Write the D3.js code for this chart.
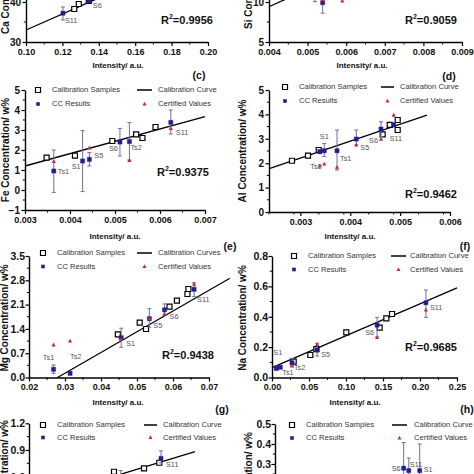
<!DOCTYPE html>
<html><head><meta charset="utf-8">
<script src="https://cdn.jsdelivr.net/npm/d3@7"></script>
<style>body{margin:0;background:#fff}svg{display:block}</style>
</head><body><svg id="c" width="474" height="474"></svg>
<script>
// ---------------- DATA ----------------
const caXTicks=[0.10,0.12,0.14,0.16,0.18,0.20], caYTicks=[30,40];
const caCalib=[[0.1265,38.25],[0.129,39.5],[0.1345,40.3]];
const caLine=[[0.10,33.0],[0.142,41.4]];
const caCC=[{s:'S11',x:0.1203,y:37.2,lo:35.5,hi:38.75},{s:'S6',x:0.1345,y:40.3,lo:40.0,hi:40.6}];
const caCert=[];

const siXTicks=[0.004,0.005,0.006,0.007,0.008,0.009], siYTicks=[5,10];
const siCalib=[];
const siLine=[[0.004,9.41],[0.0046,10.72]];
const siCC=[{s:'',x:0.00519,y:10.7,lo:10.05,hi:11.3},{s:'',x:0.00539,y:9.91,lo:8.6,hi:11.0}];
const siCert=[{x:0.00539,y:10.25},{x:0.0059,y:10.12}];

const feXTicks=[0.003,0.004,0.005,0.006,0.007], feYTicks=[-1,0,1,2,3,4,5];
const feCalib=[[0.00348,1.62],[0.00411,1.72],[0.00494,2.45],[0.00547,2.78],[0.00561,2.60],[0.0059,3.15]];
const feLine=[[0.003,1.2],[0.007,3.67]];
const feCC=[
 {s:'Ts1',x:0.00364,y:0.95,lo:-0.12,hi:2.0},
 {s:'S1',x:0.00428,y:1.45,lo:-0.08,hi:2.97},
 {s:'S5',x:0.00443,y:1.53,lo:1.2,hi:1.87},
 {s:'S6',x:0.00511,y:2.40,lo:1.7,hi:3.08},
 {s:'Ts2',x:0.00532,y:2.42,lo:1.5,hi:3.37},
 {s:'S11',x:0.00624,y:3.38,lo:2.8,hi:4.0}];
const feCert=[{x:0.00364,y:1.42},{x:0.00443,y:2.1},{x:0.00532,y:1.47},{x:0.00624,y:3.08}];

const alXTicks=[0.003,0.004,0.005,0.006], alYTicks=[0,1,2,3,4,5];
const alCalib=[[0.002831,2.10],[0.003152,2.31],[0.003367,2.54],[0.004650,3.18],[0.004791,3.57],[0.004951,3.77],[0.004951,3.36]];
const alLine=[[0.00239,1.79],[0.005539,3.97]];
const alCC=[
 {s:'Ts2',x:0.003387,y:2.47,lo:2.4,hi:2.55},
 {s:'S1',x:0.003479,y:2.51,lo:2.27,hi:2.81},
 {s:'Ts1',x:0.003734,y:2.51,lo:1.72,hi:3.36},
 {s:'S5',x:0.004121,y:2.99,lo:2.75,hi:3.36},
 {s:'S6',x:0.004616,y:3.40,lo:3.09,hi:3.70},
 {s:'S11',x:0.004871,y:3.57,lo:3.5,hi:3.65}];
const alCert=[{x:0.003387,y:1.89},{x:0.003479,y:1.97},{x:0.003734,y:1.83},{x:0.004121,y:2.75},{x:0.004616,y:2.98},{x:0.004871,y:3.97}];

const mgXTicks=[0.02,0.03,0.04,0.05,0.06,0.07], mgYTicks=[0.0,0.7,1.4,2.1,2.8,3.5];
const mgCalib=[[0.04467,1.245],[0.05075,1.579],[0.05251,1.397],[0.05903,2.040],[0.06108,2.213],[0.06401,2.406],[0.06428,2.550]];
const mgLine=[[0.02793,0.0],[0.0758,2.858]];
const mgCC=[
 {s:'Ts1',x:0.02682,y:0.236,lo:0.12,hi:0.36},
 {s:'Ts2',x:0.03141,y:0.121,lo:0.08,hi:0.17},
 {s:'S1',x:0.04561,y:1.146,lo:0.87,hi:1.42},
 {s:'S5',x:0.05343,y:1.695,lo:1.45,hi:1.99},
 {s:'S6',x:0.05765,y:1.95,lo:1.80,hi:2.12},
 {s:'S11',x:0.06586,y:2.54,lo:2.33,hi:2.73}];
const mgCert=[{x:0.02682,y:0.94},{x:0.03141,y:1.05},{x:0.04561,y:1.10},{x:0.05343,y:1.70},{x:0.05765,y:1.83},{x:0.06586,y:2.69}];

const naXTicks=[0.00,0.05,0.10,0.15,0.20,0.25], naYTicks=[0.0,0.2,0.4,0.6,0.8];
const naCalib=[[0.0293,0.104],[0.0518,0.148],[0.0599,0.187],[0.1004,0.297],[0.1455,0.328],[0.1545,0.389],[0.1622,0.418]];
const naLine=[[0.0,0.065],[0.25,0.59]];
const naCC=[
 {s:'S1',x:0.0058,y:0.060,lo:0.05,hi:0.075},
 {s:'Ts1',x:0.0112,y:0.067,lo:0.06,hi:0.075},
 {s:'Ts2',x:0.027,y:0.097,lo:0.075,hi:0.126},
 {s:'S5',x:0.061,y:0.181,lo:0.141,hi:0.225},
 {s:'S6',x:0.142,y:0.345,lo:0.268,hi:0.396},
 {s:'S11',x:0.208,y:0.492,lo:0.396,hi:0.576}];
const naCert=[{x:0.027,y:0.075},{x:0.061,y:0.218},{x:0.142,y:0.264},{x:0.208,y:0.444}];

const tiXTicks=[], tiYTicks=[0.3,0.6,0.9,1.2];
const tiCalib=[[0.04696,0.655],[0.06354,0.693],[0.07199,0.756]];
const tiLine=[[0.035,0.53],[0.0917,0.88]];
const tiCC=[{s:'',x:0.05066,y:0.58,lo:0.5,hi:0.668},{s:'S11',x:0.07293,y:0.805,lo:0.755,hi:0.89}];
const tiCert=[];

const kXTicks=[], kYTicks=[0.1,0.2,0.3,0.4,0.5];
const kCalib=[];
const kLine=[[0.087,0.145],[0.1009,0.174]];
const kCC=[{s:'',x:0.0496,y:0.1,lo:0.0,hi:0.205},{s:'S6',x:0.0707,y:0.279,lo:0.15,hi:0.407},{s:'S11',x:0.0735,y:0.267,lo:0.2,hi:0.33},{s:'S1',x:0.0795,y:0.267,lo:0.13,hi:0.40}];
const kCert=[];

// ---------------- LAYOUT ----------------
const svg=d3.select('#c');
const FONT="'Liberation Sans', Arial, Helvetica, sans-serif";
const BLUE='#1f1f8f', ERR='#6e6ea6', RED='#c42a3c', LBL='#555';

const panels=[
 {calib:caCalib,line:caLine,cc:caCC,cert:caCert,xt:caXTicks,yt:caYTicks,xf:'.2f',yf:'d',
  xd:[0.10,0.20],xr:[26,208],yd:[30,45],yr:[42,-18],xm:0.01,ym:5,ytFont:10,ypad:1.5,
  title:'Ca Concentration/ w%',tPos:[6,34,'start'],r2:'0.9956',r2Pos:[161,21],letter:'(c)',lPos:[199,76],xl:[118,66],
  labels:{S11:[2,8,'start'],S6:[4,5,'start']}},
 {calib:siCalib,line:siLine,cc:siCC,cert:siCert,xt:siXTicks,yt:siYTicks,xf:'.3f',yf:'d',
  xd:[0.004,0.009],xr:[269,462],yd:[5,12],yr:[42,-14],xm:0.0005,ym:2.5,ytFont:10,ypad:1.5,
  title:'Si Concentration/ w%',tPos:[249,29,'start'],r2:'0.9059',r2Pos:[405,21],letter:'(d)',lPos:[449,77],xl:[362,66],labels:{}},
 {calib:feCalib,line:feLine,cc:feCC,cert:feCert,xt:feXTicks,yt:feYTicks,xf:'.3f',yf:'d',
  xd:[0.003,0.007],xr:[25,205],yd:[-1,5],yr:[210,90],xm:0.0005,ym:0.5,ytFont:10,ypad:1.5,
  title:'Fe Concentration/ w%',tPos:[6,150,'middle'],r2:'0.9375',r2Pos:[157,173],letter:'(e)',lPos:[230,247],xl:[115,237],
  legend:{sq:38,y1:90,y2:104,ln:[137,152],tx2:158,curve:'Calibration Curve'},
  labels:{Ts1:[4,1,'start'],S1:[-2,6,'end'],S5:[5,-3,'start'],S6:[-2,7,'end'],Ts2:[1,6,'start'],S11:[5,11,'start']}},
 {calib:alCalib,line:alLine,cc:alCC,cert:alCert,xt:alXTicks,yt:alYTicks,xf:'.3f',yf:'d',
  xd:[0.00237,0.006],xr:[269,450],yd:[0,5],yr:[212,90],xm:0.0005,ym:0.5,ytFont:10,ypad:1.5,
  title:'Al Concentration/ w%',tPos:[243,151,'middle'],r2:'0.9462',r2Pos:[405,195],letter:'(f)',lPos:[465,247],xl:[350,237],
  legend:{sq:285,y1:87,y2:101,ln:[381,394],tx2:400,curve:'Calibration Curve'},
  labels:{Ts2:[2,15,'end'],S1:[0,-14,'middle'],Ts1:[3,8,'start'],S5:[4,9,'start'],S6:[-3,12,'end'],S11:[-4,14,'start']}},
 {calib:mgCalib,line:mgLine,cc:mgCC,cert:mgCert,xt:mgXTicks,yt:mgYTicks,xf:'.2f',yf:'.1f',
  xd:[0.02,0.07],xr:[29,209],yd:[0,3.5],yr:[377.5,256],xm:0.005,ym:0.35,ytFont:10.5,ypad:0.5,
  title:'Mg Concentration/ w%',tPos:[5,318,'middle'],r2:'0.9438',r2Pos:[162,356],letter:'(g)',lPos:[222,410],xl:[118,403],
  legend:{sq:43,y1:253,y2:266.5,ln:[137,152],tx2:158,curve:'Calibration Curves'},
  labels:{Ts1:[-5,-11,'middle'],Ts2:[0,-16,'start'],S1:[5,6,'start'],S5:[4,7,'start'],S6:[5,7,'start'],S11:[3,11,'start']}},
 {calib:naCalib,line:naLine,cc:naCC,cert:naCert,xt:naXTicks,yt:naYTicks,xf:'.2f',yf:'.1f',
  xd:[0,0.25],xr:[272,457],yd:[0,0.8],yr:[377.5,256],xm:0.025,ym:0.1,ytFont:10.5,ypad:0.5,
  title:'Na Concentration/ w%',tPos:[243,318,'middle'],r2:'0.9685',r2Pos:[405,348],letter:'(h)',lPos:[467,410],xl:[355,403],
  legend:{sq:294,y1:256,y2:269.5,ln:[391,406],tx2:410,curve:'Calibration Curve'},
  labels:{S1:[1.5,-15,'middle'],Ts1:[2,6,'start'],Ts2:[2,5,'start'],S5:[4,5,'start'],S6:[-3,8,'end'],S11:[4,5,'start']}},
 {calib:tiCalib,line:tiLine,cc:tiCC,cert:tiCert,xt:tiXTicks,yt:tiYTicks,xf:'.2f',yf:'.1f',
  xd:[0,0.1],xr:[29,210],yd:[0.3,1.2],yr:[503.3,423.3],xm:null,ym:0.15,ytFont:10.5,ypad:0.5,
  title:'Ti Concentration/ w%',tPos:[5,420,'end'],xl:null,
  legend:{sq:43,y1:425,y2:437.5,ln:[144,157],tx2:163,curve:'Calibration Curve'},
  labels:{S11:[5,7,'start']}},
 {calib:kCalib,line:kLine,cc:kCC,cert:kCert,xt:kXTicks,yt:kYTicks,xf:'.2f',yf:'.1f',
  xd:[0,0.1],xr:[275,457],yd:[0.1,0.5],yr:[504,424],xm:null,ym:0.05,ytFont:10.5,ypad:0.5,
  title:'K Concentration/ w%',tPos:[249,432,'end'],xl:null,
  legend:{sq:292,y1:425,y2:438,ln:[392,407],tx2:414,curve:'Calibration Curve'},
  labels:{S6:[-3,1,'end'],S11:[1,-6,'start'],S1:[4,-1,'start']}}
];

function sqPath(s){return `M${-s/2},${-s/2}h${s}v${s}h${-s}Z`;}
function triPath(s){const h=s*0.9;return `M0,${-h*0.6}L${s/2},${h*0.4}L${-s/2},${h*0.4}Z`;}

function drawPanel(P){
  const x=d3.scaleLinear().domain(P.xd).range(P.xr);
  const y=d3.scaleLinear().domain(P.yd).range(P.yr);
  const g=svg.append('g').style('font-family',FONT);
  // x axis
  const xa=g.append('g').attr('transform',`translate(0,${P.yr[0]})`)
    .call(d3.axisBottom(x).tickValues(P.xt).tickFormat(d3.format(P.xf)).tickSize(4).tickSizeOuter(0).tickPadding(2.5));
  xa.select('.domain').attr('stroke','#000').attr('stroke-width',1.4);
  xa.selectAll('.tick line').attr('stroke-width',1.2);
  xa.selectAll('text').attr('font-size',9).attr('font-weight','bold').attr('fill','#111').style('font-family',FONT);
  if(P.xm){
    const mins=d3.range(P.xd[0],P.xd[1]+1e-12,P.xm).filter(v=>!P.xt.some(t=>Math.abs(t-v)<P.xm*0.1));
    xa.selectAll('.mn').data(mins).join('line').attr('x1',d=>x(d)).attr('x2',d=>x(d)).attr('y1',0).attr('y2',2.5).attr('stroke','#000').attr('stroke-width',1);
  }
  // y axis
  const ya=g.append('g').attr('transform',`translate(${P.xr[0]},0)`)
    .call(d3.axisLeft(y).tickValues(P.yt).tickFormat(d3.format(P.yf)).tickSize(3.5).tickSizeOuter(0).tickPadding(P.ypad));
  ya.select('.domain').attr('stroke','#000').attr('stroke-width',1.4);
  ya.selectAll('.tick line').attr('stroke-width',1.2);
  ya.selectAll('text').attr('font-size',P.ytFont).attr('font-weight','bold').attr('fill','#111').style('font-family',FONT);
  const ymins=d3.range(P.yd[0],P.yd[1]+1e-12,P.ym).filter(v=>!P.yt.some(t=>Math.abs(t-v)<P.ym*0.1));
  ya.selectAll('.mn').data(ymins).join('line').attr('x1',0).attr('x2',-2.2).attr('y1',d=>y(d)).attr('y2',d=>y(d)).attr('stroke','#000').attr('stroke-width',1);

  // axis titles
  const [tx,ty,ta]=P.tPos;
  g.append('text').attr('transform',`translate(${tx},${ty}) rotate(-90)`).attr('text-anchor',ta)
    .attr('dominant-baseline','middle').attr('font-size',10).attr('font-weight','bold').attr('fill','#111').text(P.title);
  if(P.xl) g.append('text').attr('x',P.xl[0]).attr('y',P.xl[1]).attr('text-anchor','middle').attr('dominant-baseline','middle')
    .attr('font-size',8).attr('font-weight','bold').attr('fill','#111').text('Intensity/ a.u.');
  if(P.letter) g.append('text').attr('x',P.lPos[0]).attr('y',P.lPos[1]).attr('text-anchor','middle').attr('dominant-baseline','middle')
    .attr('font-size',10.5).attr('font-weight','bold').attr('fill','#111').text(P.letter);

  // calibration curve
  g.append('path').datum(P.line).attr('d',d3.line().x(d=>x(d[0])).y(d=>y(d[1])))
    .attr('stroke','#000').attr('stroke-width',1.3).attr('fill','none');
  // calibration samples
  g.selectAll('.cal').data(P.calib).join('path').attr('d',sqPath(5))
    .attr('transform',d=>`translate(${x(d[0])},${y(d[1])})`).attr('fill','#fff').attr('stroke','#000').attr('stroke-width',1.2);
  // error bars
  const eb=g.selectAll('.eb').data(P.cc).join('g').attr('stroke',ERR).attr('stroke-width',1);
  eb.append('line').attr('x1',d=>x(d.x)).attr('x2',d=>x(d.x)).attr('y1',d=>y(d.lo)).attr('y2',d=>y(d.hi));
  eb.append('line').attr('x1',d=>x(d.x)-2).attr('x2',d=>x(d.x)+2).attr('y1',d=>y(d.lo)).attr('y2',d=>y(d.lo));
  eb.append('line').attr('x1',d=>x(d.x)-2).attr('x2',d=>x(d.x)+2).attr('y1',d=>y(d.hi)).attr('y2',d=>y(d.hi));
  // CC results
  g.selectAll('.ccp').data(P.cc).join('path').attr('d',sqPath(4.2))
    .attr('transform',d=>`translate(${x(d.x)},${y(d.y)})`).attr('fill',BLUE).attr('stroke',BLUE).attr('stroke-width',0.4);
  // certified
  g.selectAll('.cert').data(P.cert).join('path').attr('d',triPath(4.2))
    .attr('transform',d=>`translate(${x(d.x)},${y(d.y)})`).attr('fill',RED);
  // sample labels
  P.cc.filter(d=>d.s && P.labels[d.s]).forEach(d=>{
    const [dx,dy,an]=P.labels[d.s];
    g.append('text').attr('x',x(d.x)+dx).attr('y',y(d.y)+dy).attr('text-anchor',an).attr('dominant-baseline','middle')
      .attr('font-size',7.3).attr('fill',LBL).text(d.s);
  });
  // R2
  if(P.r2){
    const t=g.append('text').attr('x',P.r2Pos[0]).attr('y',P.r2Pos[1]).attr('dominant-baseline','middle')
      .attr('font-size',11).attr('font-weight','bold').attr('fill','#111');
    t.append('tspan').text('R');
    t.append('tspan').attr('font-size',7).attr('dy',-4).text('2');
    t.append('tspan').attr('dy',4).text('='+P.r2);
  }
  // legend
  if(P.legend){
    const L=P.legend, lg=g.append('g').attr('font-size',7.6).attr('fill','#333');
    lg.append('path').attr('d',sqPath(5)).attr('transform',`translate(${L.sq},${L.y1})`).attr('fill','#fff').attr('stroke','#000').attr('stroke-width',1.2);
    lg.append('text').attr('x',L.sq+14).attr('y',L.y1).attr('dominant-baseline','middle').text('Calibration Samples');
    lg.append('line').attr('x1',L.ln[0]).attr('x2',L.ln[1]).attr('y1',L.y1).attr('y2',L.y1).attr('stroke','#000').attr('stroke-width',1.5);
    lg.append('text').attr('x',L.tx2).attr('y',L.y1).attr('dominant-baseline','middle').text(L.curve);
    lg.append('path').attr('d',sqPath(3.6)).attr('transform',`translate(${L.sq},${L.y2})`).attr('fill',BLUE);
    lg.append('text').attr('x',L.sq+14).attr('y',L.y2).attr('dominant-baseline','middle').text('CC Results');
    lg.append('path').attr('d',triPath(4)).attr('transform',`translate(${(L.ln[0]+L.ln[1])/2},${L.y2})`).attr('fill',RED);
    lg.append('text').attr('x',L.tx2).attr('y',L.y2).attr('dominant-baseline','middle').text('Certified Values');
  }
}
panels.forEach(drawPanel);
</script></body></html>
